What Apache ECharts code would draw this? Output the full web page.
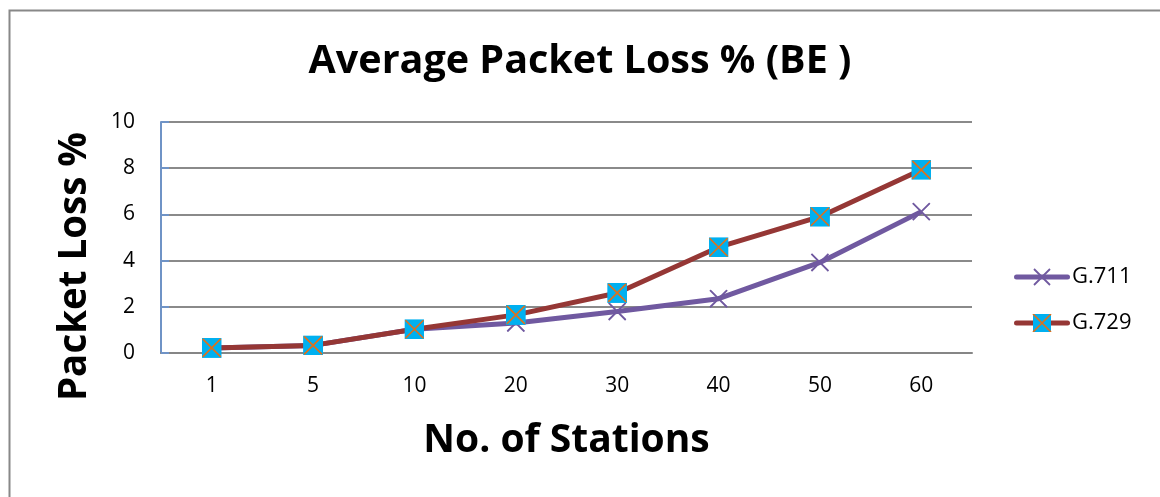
<!DOCTYPE html>
<html>
<head>
<meta charset="utf-8">
<script src="https://cdn.jsdelivr.net/npm/echarts@6/dist/echarts.min.js"></script>
<style>
  html, body { margin: 0; padding: 0; background: #ffffff; }
  #chart { width: 1160px; height: 497px; }
</style>
</head>
<body>
<div id="chart"></div>
<script>
// Stations on the x axis and average packet loss (%) per codec
const stations = ['1', '5', '10', '20', '30', '40', '50', '60'];
const g711 = [0.22, 0.33, 1.03, 1.3, 1.8, 2.35, 3.92, 6.12];
const g729 = [0.22, 0.33, 1.03, 1.65, 2.6, 4.58, 5.9, 7.93];
const yTicks = [0, 2, 4, 6, 8, 10];

const purple = '#7059A0';
const darkRed = '#953735';
const cyan = '#00B0F0';
const orange = '#E0701A';

function svgUrl(svg) {
  return 'image://data:image/svg+xml;charset=utf-8,' + encodeURIComponent(svg);
}

// Markers: a thin cross for G.711, a filled square crossed in orange for G.729
const crossSvg = '<svg xmlns="http://www.w3.org/2000/svg" width="20" height="20" viewBox="0 0 20 20">' +
  '<path d="M1 1 L19 19 M19 1 L1 19" stroke="' + purple + '" stroke-width="2" fill="none"/></svg>';
const squareSvg = '<svg xmlns="http://www.w3.org/2000/svg" width="20" height="20" viewBox="0 0 20 20">' +
  '<rect x="0" y="0" width="20" height="20" fill="' + cyan + '"/>' +
  '<path d="M1 1 L19 19 M19 1 L1 19" stroke="' + orange + '" stroke-width="1.6" fill="none"/></svg>';

// Legend icons: line segment with the marker in its middle
const crossIcon = '<svg xmlns="http://www.w3.org/2000/svg" width="56" height="18" viewBox="0 0 56 18">' +
  '<path d="M2.5 9 L53.5 9" stroke="' + purple + '" stroke-width="5" stroke-linecap="round"/>' +
  '<path d="M20 1 L36 17 M36 1 L20 17" stroke="' + purple + '" stroke-width="1.8" fill="none"/></svg>';
const squareIcon = '<svg xmlns="http://www.w3.org/2000/svg" width="56" height="18" viewBox="0 0 56 18">' +
  '<path d="M2.5 9 L53.5 9" stroke="' + darkRed + '" stroke-width="5" stroke-linecap="round"/>' +
  '<rect x="19" y="0" width="18" height="18" fill="' + cyan + '"/>' +
  '<path d="M19 0 L37 18 M37 0 L19 18" stroke="' + orange + '" stroke-width="1.6" fill="none"/></svg>';

const fontFamily = '"Open Sans", "Noto Sans", sans-serif';

const chart = echarts.init(document.getElementById('chart'), null, { renderer: 'canvas' });

chart.setOption({
  backgroundColor: '#ffffff',
  animation: false,
  title: {
    text: 'Average Packet Loss % (BE )',
    left: 'center',
    top: 37,
    textStyle: { fontFamily, fontWeight: 'bold', fontSize: 39.5, color: '#000000' }
  },
  graphic: [{
    type: 'rect',
    shape: { x: 9.5, y: 10.5, width: 1300, height: 700 },
    style: { fill: 'none', stroke: '#888888', lineWidth: 2 },
    silent: true
  }],
  legend: {
    orient: 'vertical',
    left: 1009,
    top: 261,
    itemWidth: 56,
    itemHeight: 18,
    itemGap: 24,
    textStyle: { fontFamily, fontSize: 22, color: '#000000', padding: [0, 0, 0, -3] },
    data: [
      { name: 'G.711', icon: svgUrl(crossIcon) },
      { name: 'G.729', icon: svgUrl(squareIcon) }
    ]
  },
  grid: { left: 161, right: 188, top: 122, bottom: 144, containLabel: false },
  xAxis: {
    type: 'category',
    data: stations,
    boundaryGap: true,
    name: 'No. of Stations',
    nameLocation: 'middle',
    nameGap: 68,
    nameTextStyle: { fontFamily, fontWeight: 'bold', fontSize: 39, color: '#000000' },
    axisLine: { lineStyle: { color: '#868686', width: 2 } },
    axisTick: { show: false },
    axisLabel: { fontFamily, fontSize: 21, color: '#000000', margin: 23 },
    splitLine: { show: false }
  },
  yAxis: {
    type: 'value',
    min: yTicks[0],
    max: yTicks[yTicks.length - 1],
    interval: 2,
    name: 'Packet Loss %',
    nameLocation: 'middle',
    nameGap: 66,
    nameRotate: 90,
    nameTextStyle: { fontFamily, fontWeight: 'bold', fontSize: 38.5, color: '#000000', padding: [0, 0, 0, -58] },
    axisLine: { show: true, lineStyle: { color: '#6F93C6', width: 2 } },
    axisTick: { show: true, inside: true, length: 8, lineStyle: { color: '#6F93C6', width: 2 } },
    axisLabel: { fontFamily, fontSize: 21, color: '#000000', margin: 26 },
    splitLine: { lineStyle: { color: '#8A8A8A', width: 2 } }
  },
  series: [
    {
      name: 'G.711',
      type: 'line',
      data: g711,
      symbol: svgUrl(crossSvg),
      symbolSize: 19,
      lineStyle: { color: purple, width: 5 },
      itemStyle: { color: purple },
      z: 2
    },
    {
      name: 'G.729',
      type: 'line',
      data: g729,
      symbol: svgUrl(squareSvg),
      symbolSize: 20,
      lineStyle: { color: darkRed, width: 5 },
      itemStyle: { color: darkRed },
      z: 3
    }
  ]
});
</script>
</body>
</html>
